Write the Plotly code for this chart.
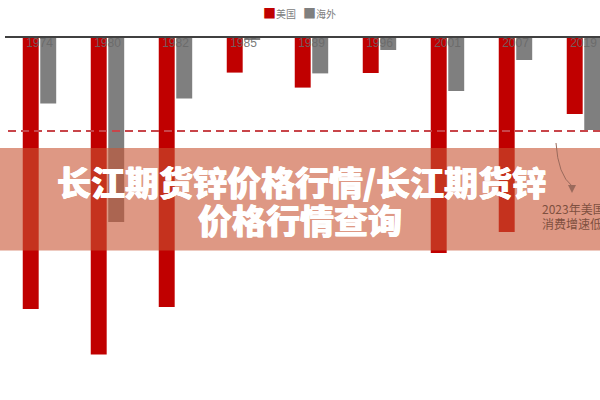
import plotly.graph_objects as go

years = ["1974", "1980", "1982", "1985", "1989", "1996", "2001", "2007", "2019"]
us_values = [-13.55, -15.83, -13.45, -1.73, -2.48, -1.75, -10.75, -9.70, -3.80]
overseas_values = [-3.27, -9.20, -3.03, -0.10, -1.77, -0.60, -2.65, -1.10, -4.60]
reference_level = -4.65

W, H = 600, 400
ML, MT = 5, 38
PW, PH = W - ML, H - MT

def px(x):
    return (x - ML) / PW

def py(y):
    return (H - y) / PH

fig = go.Figure()
fig.add_trace(go.Bar(x=years, y=us_values, name="美国", marker_color="#c00000",
                     marker_line_width=0))
fig.add_trace(go.Bar(x=years, y=overseas_values, name="海外", marker_color="#7f7f7f",
                     marker_line_width=0))
# category labels just below the axis line, drawn above the bars
fig.add_trace(go.Scatter(x=years, y=[0] * len(years), mode="text", text=years,
                         textposition="bottom center", hoverinfo="skip",
                         textfont=dict(family="Liberation Sans", size=12,
                                       color="rgba(105,105,105,0.9)")))

# dashed reference line
fig.add_shape(type="line", xref="paper", yref="y", x0=px(8), x1=1.0,
              y0=reference_level, y1=reference_level,
              line=dict(color="#c8454a", width=2, dash="8px,5px"), layer="above")

# title overlay band
fig.add_shape(type="rect", xref="paper", yref="paper", x0=px(0), x1=1.0,
              y0=py(250.5), y1=py(148), fillcolor="rgba(200,83,50,0.6)",
              line_width=0, layer="above")

# curved arrow (under band)
fig.add_shape(type="path", xref="paper", yref="paper",
              path=f"M {px(556)},{py(143)} Q {px(558)},{py(175)} {px(572)},{py(186)}",
              line=dict(color="#9a6a5c", width=1), layer="above")
fig.add_shape(type="path", xref="paper", yref="paper",
              path=f"M {px(568)},{py(185)} L {px(576)},{py(185)} L {px(572)},{py(193)} Z",
              fillcolor="#9a6a5c", line_width=0, layer="above")

annotations = []
# manual legend
annotations.append(dict(xref="paper", yref="paper", x=px(261), y=py(12), xanchor="left",
                        yanchor="middle", showarrow=False,
                        text="<span style='color:#c00000;font-size:13px'>■</span>美国",
                        font=dict(family="Noto Sans CJK SC", size=10, color="#808080")))
annotations.append(dict(xref="paper", yref="paper", x=px(301), y=py(12), xanchor="left",
                        yanchor="middle", showarrow=False,
                        text="<span style='color:#7f7f7f;font-size:13px'>■</span>海外",
                        font=dict(family="Noto Sans CJK SC", size=10, color="#808080")))
# side note
annotations.append(dict(xref="paper", yref="paper", x=px(540), y=py(209), xanchor="left",
                        yanchor="middle", showarrow=False, text="2023年美国",
                        font=dict(family="Noto Sans CJK SC", size=12, color="#7e5040")))
annotations.append(dict(xref="paper", yref="paper", x=px(540), y=py(223), xanchor="left",
                        yanchor="middle", showarrow=False, text="消费增速低",
                        font=dict(family="Noto Sans CJK SC", size=12, color="#7e5040")))
# title
title_shadow = "0.4px 0 0 white, -0.4px 0 0 white"
annotations.append(dict(xref="paper", yref="paper", x=px(301), y=py(181), xanchor="center",
                        yanchor="middle", showarrow=False, text="长江期货锌价格行情/长江期货锌",
                        font=dict(family="Noto Sans CJK SC", size=34, color="white", weight=900,
                                  shadow=title_shadow)))
annotations.append(dict(xref="paper", yref="paper", x=px(300), y=py(220), xanchor="center",
                        yanchor="middle", showarrow=False, text="价格行情查询",
                        font=dict(family="Noto Sans CJK SC", size=34, color="white", weight=900,
                                  shadow=title_shadow)))

fig.update_layout(
    width=W, height=H,
    margin=dict(l=ML, r=0, t=MT, b=0, pad=0),
    paper_bgcolor="white", plot_bgcolor="white",
    showlegend=False,
    barmode="group", bargap=0.485, bargroupgap=0.09,
    annotations=annotations,
    xaxis=dict(type="category", side="top", range=[-0.507, 8.243],
               showline=True, linecolor="#404040", linewidth=1.5,
               ticks="", showticklabels=False,
               showgrid=False, zeroline=False),
    yaxis=dict(range=[-18.1, 0], visible=False, showgrid=False, zeroline=False),
)

fig.write_html("out.html", config={"displayModeBar": False},
               post_script="document.body.style.margin='0';")
